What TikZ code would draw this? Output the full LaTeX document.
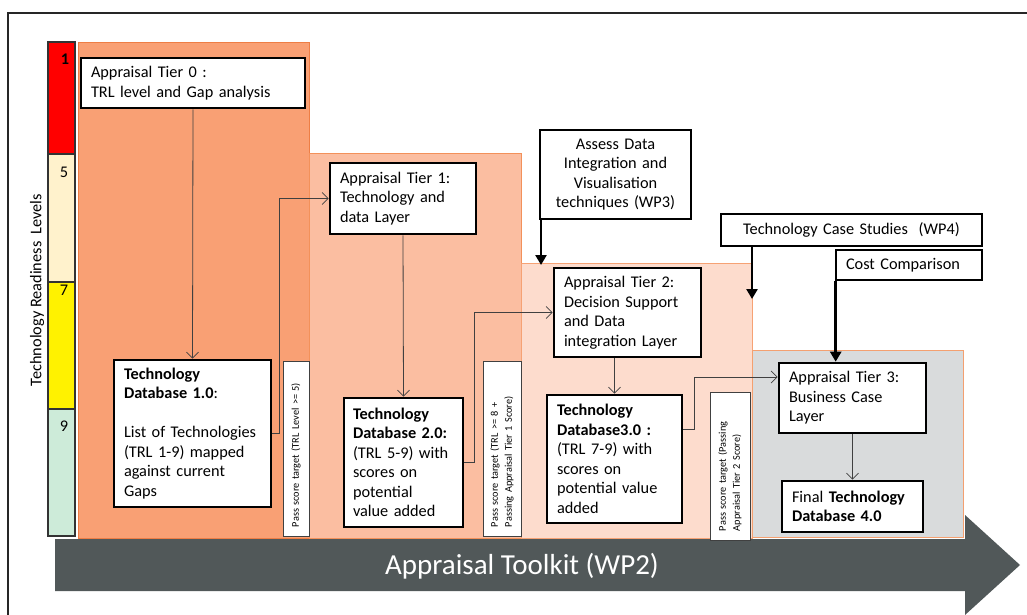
\documentclass[tikz,border=0pt]{standalone}
\usepackage{fontspec}
\setmainfont{Carlito}
\usetikzlibrary{arrows.meta}
\definecolor{tzero}{HTML}{F9A074}
\definecolor{tzerob}{HTML}{EE7E45}
\definecolor{tone}{HTML}{FBBEA1}
\definecolor{toneb}{HTML}{F3915A}
\definecolor{ttwo}{HTML}{FDDCCD}
\definecolor{ttwob}{HTML}{F6A274}
\definecolor{tthree}{HTML}{D9DBDC}
\definecolor{tthreeb}{HTML}{F4A070}
\definecolor{arrowgray}{HTML}{515859}
\definecolor{trlcream}{HTML}{FFF2CC}
\definecolor{trlgreen}{HTML}{CDEBD9}
\definecolor{connc}{HTML}{404040}
\newcommand{\boxfont}{\fontsize{16.3}{19.5}\selectfont}
\newcommand{\passfont}{\fontsize{10.3}{14}\selectfont}
\begin{document}
\begin{tikzpicture}[x=1pt,y=-1pt,
  bx/.style={draw=black, line width=2.6pt, fill=white, font=\boxfont, align=left, inner xsep=10pt, inner ysep=0pt},
  passbox/.style={draw=connc, line width=0.8pt, fill=white, font=\passfont, align=left, inner xsep=9pt, inner ysep=0pt, rotate=90},
  conn/.style={draw=connc, line width=0.8pt, -{Straight Barb[length=6pt,width=12pt]}},
  thickarrow/.style={draw=black, line width=2.6pt, -{Triangle[length=10pt,width=11pt]}},
  trlseg/.style={draw=black!80, line width=1.2pt},
  trlnum/.style={font=\boxfont, anchor=center},
]
\useasboundingbox (0,0) rectangle (1027,615);
\fill[white] (0,0) rectangle (1027,615);
% outer frame
\draw[line width=1.3pt, black!85] (8,615) -- (8,13) -- (1027,13);

% tier backgrounds
\filldraw[fill=tzero, draw=tzerob, line width=0.8pt] (78,42) rectangle (309,538);
\filldraw[fill=tone, draw=toneb, line width=0.8pt] (309,153) rectangle (521,538);
\filldraw[fill=ttwo, draw=ttwob, line width=0.8pt] (521,263) rectangle (752,538);
\filldraw[fill=tthree, draw=tthreeb, line width=0.8pt] (752,350) rectangle (963,537);

% TRL bar
\filldraw[trlseg, fill=red] (48,42) rectangle (75,154);
\filldraw[trlseg, fill=trlcream] (48,154) rectangle (75,282);
\filldraw[trlseg, fill=yellow] (48,282) rectangle (75,409);
\filldraw[trlseg, fill=trlgreen] (48,409) rectangle (75,536);
\node[trlnum, font=\boxfont\bfseries] (n1) at (65,59) {1};
\node[trlnum] (n5) at (64,172) {5};
\node[trlnum] (n7) at (64,290) {7};
\node[trlnum] (n9) at (64,426) {9};
\node[font=\boxfont, rotate=90] (trl) at (37,290) {Technology Readiness\ \ Levels};

% big arrow
\fill[arrowgray] (55,539) -- (965,539) -- (965,515) -- (1020,565) -- (965,615) -- (965,591) -- (55,591) -- cycle;
\node[text=white, font=\fontsize{29}{34}\selectfont] (toolkit) at (522,566) {Appraisal Toolkit (WP2)};

% pass score boxes
\node[passbox, minimum width=175pt, minimum height=26pt, text width=157pt] (p1) at (296,448.5) {Pass score target (TRL Level >= 5)};
\node[passbox, minimum width=175pt, minimum height=38pt, text width=157pt] (p2) at (502,448.5) {Pass score target (TRL >= 8 +\\Passing Appraisal Tier 1 Score)};
\node[passbox, minimum width=148pt, minimum height=40pt, text width=130pt] (p3) at (730,466) {Pass score target (Passing\\Appraisal Tier 2 Score)};

% main boxes
\node[bx, minimum height=50pt, text width=204pt] (t0) at (193,83) {Appraisal Tier 0 :\\TRL level and Gap analysis};
\node[bx, minimum height=147pt, text width=137pt] (db1) at (192.5,433.5) {\textbf{Technology}\\\textbf{Database 1.0}:\\[19.5pt]List of Technologies\\(TRL 1-9) mapped\\against current\\Gaps};
\node[bx, minimum height=71pt, text width=126pt] (t1) at (403,198.5) {Appraisal Tier 1:\\Technology and\\data Layer};
\node[bx, minimum height=129pt, text width=101pt, inner xsep=9pt] (db2) at (403.5,462.5) {\textbf{Technology}\\\textbf{Database~2.0:}\\(TRL~5-9)~with\\scores on\\potential\\value added};
\node[bx, minimum height=89pt, text width=127pt] (t2) at (627.5,312.5) {Appraisal Tier 2:\\Decision Support\\and Data\\integration Layer};
\node[bx, minimum height=128pt, text width=115pt] (db3) at (614.5,459) {\textbf{Technology}\\\textbf{Database3.0 :}\\(TRL 7-9) with\\scores on\\potential value\\added};
\node[bx, align=center, minimum height=89pt, text width=131pt] (assess) at (615.5,174.5) {Assess Data\\Integration and\\Visualisation\\techniques (WP3)};
\node[bx, minimum height=70pt, text width=127pt] (t3) at (852.5,398) {Appraisal Tier 3:\\Business Case\\Layer};
\node[bx, minimum height=51pt, text width=121pt] (final) at (852.5,506.5) {Final \textbf{Technology}\\\textbf{Database 4.0}};
\node[bx, align=center, minimum height=32pt, text width=241pt] (tcs) at (851.5,230) {Technology Case Studies\ \ (WP4)};
\node[bx, minimum height=30pt, text width=126pt] (cost) at (909,265) {Cost Comparison};

% thin connectors
\draw[conn] (t0.south) -- (db1.north);
\draw[conn] (t1.south) -- (db2.north);
\draw[conn] (t2.south -| db3.north) -- (db3.north);
\draw[conn] (t3.south) -- (final.north);
\draw[conn] (db1.east) -- ++(7,0) |- (t1.west);
\draw[conn] (db2.east) -- ++(10,0) |- (t2.west);
\draw[conn] ([yshift=30pt]db3.east) -- ++(11,0) |- ([yshift=21pt]t3.west);

% thick arrows
\coordinate (a2end) at (541,265);
\coordinate (a4end) at (752,299);
\draw[thickarrow] (assess.south -| a2end) -- (a2end);
\draw[thickarrow] (tcs.south -| a4end) -- (a4end);
\draw[thickarrow] ([xshift=1pt]cost.south west) -- ([xshift=1pt]cost.south west |- t3.north);
\end{tikzpicture}
\end{document}
